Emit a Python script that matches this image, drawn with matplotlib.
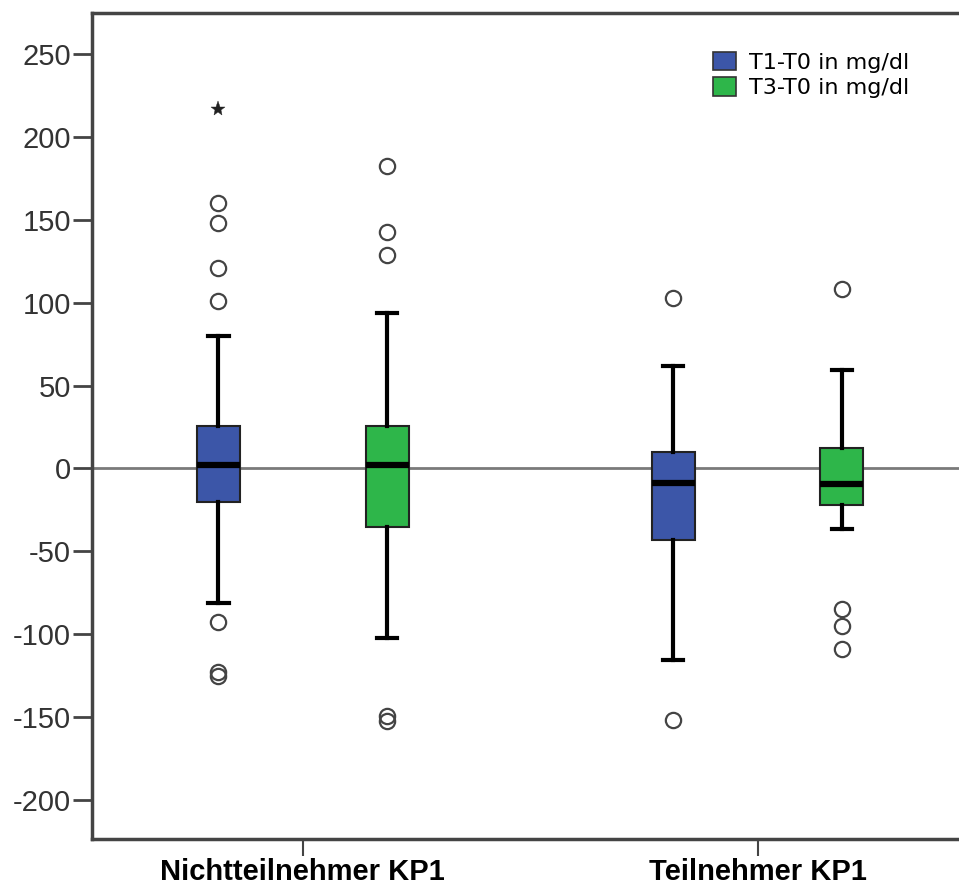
import matplotlib
matplotlib.use("Agg")
import matplotlib.patches as mpatches
import matplotlib.pyplot as plt

plt.rcParams["axes.unicode_minus"] = False
plt.rcParams["font.family"] = ["Liberation Sans", "DejaVu Sans"]

# values (mg/dl differences)
groups = ["Nichtteilnehmer KP1", "Teilnehmer KP1"]
series = ["T1-T0 in mg/dl", "T3-T0 in mg/dl"]
colors = ["#3c56a8", "#2eb64a"]

# order: (group 1, T1), (group 1, T3), (group 2, T1), (group 2, T3)
q1 = [-20.5, -35.5, -43, -22]
med = [2, 2, -8.5, -9.5]
q3 = [25.5, 25.5, 10, 12.5]
whislo = [-81, -102.5, -115.5, -36.5]
whishi = [80, 94, 62, 59.5]
fliers = [
    [160, 148, 121, 101, -92.5, -123, -125],
    [182.5, 142.5, 129, -149.5, -152.5],
    [103, -151.5],
    [108, -84.5, -95, -109],
]
extremes = [[217], [], [], []]

group_pos = [1, 2]
offset = 0.1856
box_w = 0.0946

positions = []
for g in group_pos:
    positions += [g - offset, g + offset]

stats = []
for i in range(4):
    stats.append(dict(med=med[i], q1=q1[i], q3=q3[i], whislo=whislo[i],
                      whishi=whishi[i], fliers=fliers[i]))

fig = plt.figure(figsize=(9.59, 8.88), dpi=100)
ax = fig.add_axes([92 / 959, 49 / 888, 867 / 959, 826 / 888])

ax.axhline(0, color="#7a7a7a", lw=2.0, zorder=1)

bp = ax.bxp(
    stats, positions=positions, widths=box_w, patch_artist=True,
    showfliers=True, manage_ticks=False,
    boxprops=dict(edgecolor="#222222", linewidth=1.5),
    medianprops=dict(color="black", linewidth=4.5, solid_capstyle="butt"),
    whiskerprops=dict(color="black", linewidth=3),
    capprops=dict(color="black", linewidth=3),
    flierprops=dict(marker="o", markersize=11, markerfacecolor="none",
                    markeredgecolor="#444444", markeredgewidth=1.6),
    capwidths=0.045,
)
for i, patch in enumerate(bp["boxes"]):
    patch.set_facecolor(colors[i % 2])
    patch.set_zorder(2)
for line in bp["medians"]:
    line.set_zorder(3)

for i, ext in enumerate(extremes):
    if ext:
        ax.plot([positions[i]] * len(ext), ext, linestyle="none",
                marker="*", markersize=11, color="#222222",
                markeredgewidth=0.3)

ax.set_xlim(0.5366, 2.443)
ax.set_ylim(-223.5, 274.7)
ax.set_yticks(range(-200, 251, 50))
ax.set_xticks(group_pos)
ax.set_xticklabels(groups, fontsize=21, fontweight="bold")
ax.tick_params(axis="y", labelsize=21, length=14, width=2,
               color="#444444", labelcolor="#333333", pad=1)
ax.tick_params(axis="x", length=12, width=1.5, color="#444444", pad=2)

for side in ["left", "bottom", "top"]:
    ax.spines[side].set_color("#444444")
    ax.spines[side].set_linewidth(2.5)
ax.spines["right"].set_visible(False)

handles = [mpatches.Patch(facecolor=c, edgecolor="#333333", linewidth=1.2,
                          label=s) for c, s in zip(colors, series)]
leg = ax.legend(handles=handles, loc="upper left",
                bbox_to_anchor=(713 / 959, 1 - 52 / 888),
                bbox_transform=fig.transFigure, frameon=False,
                prop=dict(family="DejaVu Sans", size=16),
                handlelength=1.05, handleheight=0.9, handletextpad=0.55,
                labelspacing=0.2, borderpad=0, borderaxespad=0)

fig.savefig("out.png", dpi=100)
